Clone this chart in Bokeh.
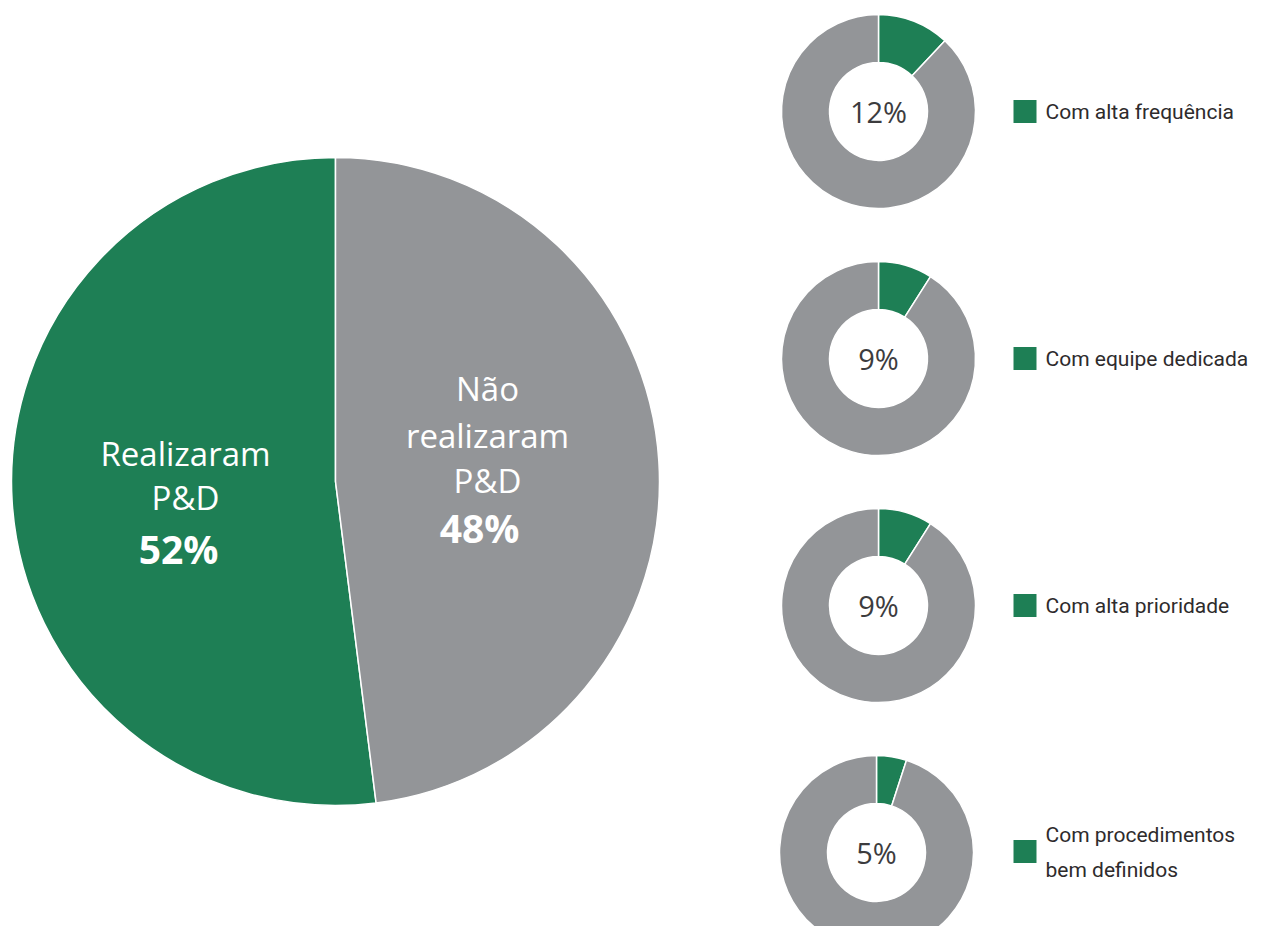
import math
from bokeh.plotting import figure
from bokeh.models import Range1d
from bokeh.core.properties import value
from bokeh.embed import file_html
from bokeh.resources import INLINE

# ---- data ----
main_labels = [["Realizaram", "P&D"], ["Não", "realizaram", "P&D"]]
main_values = [52, 48]
donut_labels = [["Com alta frequência"], ["Com equipe dedicada"], ["Com alta prioridade"],
                ["Com procedimentos", "bem definidos"]]
donut_values = [12, 9, 9, 5]

GREEN = "#1e7f55"
GRAY = "#939598"
TEXT = "#3c3c3e"
LEG_TEXT = "#2e2b2c"

W, H = 1249, 926
p = figure(width=W, height=H, output_backend="svg", toolbar_location=None,
           x_range=Range1d(0, W), y_range=Range1d(0, H), min_border=0)
p.axis.visible = False
p.grid.visible = False
p.outline_line_color = None
p.background_fill_color = "white"
p.border_fill_color = "white"

def Y(py):
    return H - py

# ---- big pie ----
cx, cy, r = 335, Y(481), 324
top = math.pi / 2
g_frac = main_values[0] / sum(main_values)
p.wedge(x=[cx], y=[cy], radius=r, start_angle=top, end_angle=top + g_frac * 2 * math.pi,
        fill_color=GREEN, line_color="white", line_width=1.5)
p.wedge(x=[cx], y=[cy], radius=r, start_angle=top - (1 - g_frac) * 2 * math.pi, end_angle=top,
        fill_color=GRAY, line_color="white", line_width=1.5)

reg = value("Open Sans")
# left label
lines = main_labels[0]
ys = [453, 497]
p.text(x=[185] * len(lines), y=[Y(v) for v in ys], text=lines, text_font=reg,
       text_font_size="33px", text_color="white", text_align="center", text_baseline="middle")
p.text(x=[178], y=[Y(548)], text=[f"{main_values[0]}%"], text_font=reg, text_font_style="bold",
       text_font_size="39px", text_color="white", text_align="center", text_baseline="middle")
# right label
lines = main_labels[1]
ys = [388, 435, 480]
p.text(x=[487] * len(lines), y=[Y(v) for v in ys], text=lines, text_font=reg,
       text_font_size="33px", text_color="white", text_align="center", text_baseline="middle")
p.text(x=[479], y=[Y(527)], text=[f"{main_values[1]}%"], text_font=reg, text_font_style="bold",
       text_font_size="39px", text_color="white", text_align="center", text_baseline="middle")

# ---- donuts ----
centers = [(878, 111), (878, 358), (878, 605), (876, 852)]
leg_font = value("Roboto")
for (px, py), v, lab in zip(centers, donut_values, donut_labels):
    dx, dy = px, Y(py)
    f = v / 100
    p.annular_wedge(x=[dx], y=[dy], inner_radius=49, outer_radius=97,
                    start_angle=top - f * 2 * math.pi, end_angle=top,
                    fill_color=GREEN, line_color="white", line_width=1.5)
    p.annular_wedge(x=[dx], y=[dy], inner_radius=49, outer_radius=97,
                    start_angle=top, end_angle=top - f * 2 * math.pi + 2 * math.pi,
                    fill_color=GRAY, line_color="white", line_width=1.5)
    p.text(x=[dx], y=[dy], text=[f"{v}%"], text_font=reg, text_font_size="29px",
           text_color=TEXT, text_align="center", text_baseline="middle")
    # legend
    sq_y = py if len(lab) == 1 else py - 1
    p.rect(x=[1024.5], y=[Y(sq_y)], width=23, height=23, fill_color=GREEN, line_color=None)
    if len(lab) == 1:
        tys = [py]
    else:
        tys = [py - 18, py + 17]
    p.text(x=[1045] * len(lab), y=[Y(t) for t in tys], text=lab, text_font=leg_font,
           text_font_size="21px", text_color=LEG_TEXT, text_align="left", text_baseline="middle")

open("out.html", "w").write(file_html(p, INLINE))
